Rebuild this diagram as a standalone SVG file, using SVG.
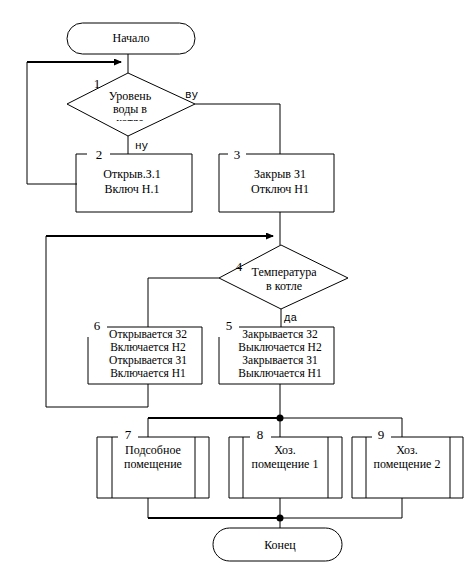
<svg xmlns="http://www.w3.org/2000/svg" width="474" height="570" viewBox="0 0 474 570">
<style>
  .s{fill:none;stroke:#000;stroke-width:1}
  .w{fill:#fff;stroke:#000;stroke-width:1}
  .thick{fill:none;stroke:#000;stroke-width:2.2}
  .t{font-family:"Liberation Serif","DejaVu Serif","Times New Roman",serif;font-size:12px;fill:#000;text-anchor:middle}
  .t5{font-family:"Liberation Serif","DejaVu Serif","Times New Roman",serif;font-size:11.5px;fill:#000;text-anchor:middle}
  .n{font-family:"Liberation Serif","DejaVu Serif","Times New Roman",serif;font-size:13px;fill:#000;text-anchor:middle}
  .l{font-family:"Liberation Mono","DejaVu Sans Mono",monospace;font-size:11px;fill:#000;text-anchor:start}
</style>
<defs>
  <marker id="ar" markerWidth="8" markerHeight="8" refX="7" refY="3.5" orient="auto" markerUnits="userSpaceOnUse">
    <path d="M0,0 L8,3.5 L0,7 Z" fill="#000"/>
  </marker>
  <clipPath id="clip1"><rect x="60" y="60" width="150" height="61"/></clipPath>
</defs>

<g id="connectors">
  <line class="s" x1="128" y1="54" x2="128" y2="73"/>
  <polyline class="s" points="77,184 27,184 27,62"/>
  <line class="thick" x1="27" y1="62" x2="121" y2="62" marker-end="url(#ar)"/>
  <line class="s" x1="128" y1="136" x2="128" y2="154"/>
  <polyline class="s" points="195,104 280,104 280,154"/>
  <line class="s" x1="280" y1="212" x2="280" y2="245"/>
  <line class="thick" x1="46" y1="236" x2="273" y2="236" marker-end="url(#ar)"/>
  <polyline class="s" points="148,384 148,407 46,407 46,236"/>
  <polyline class="s" points="219,278 148,278 148,327"/>
  <line class="s" x1="281" y1="309" x2="281" y2="327"/>
  <line class="s" x1="280" y1="384" x2="280" y2="418"/>
  <line class="thick" x1="148" y1="418" x2="280" y2="418"/>
  <polyline class="s" points="280,418 402,418 402,437"/>
  <line class="s" x1="148" y1="418" x2="148" y2="437"/>
  <line class="s" x1="280" y1="418" x2="280" y2="437"/>
  <circle cx="280" cy="418" r="3.5" fill="#000"/>
  <line class="s" x1="148" y1="498" x2="148" y2="518"/>
  <line class="s" x1="280" y1="498" x2="280" y2="528"/>
  <line class="s" x1="402" y1="498" x2="402" y2="518"/>
  <line class="thick" x1="148" y1="518" x2="280" y2="518"/>
  <line class="s" x1="280" y1="518" x2="402" y2="518"/>
  <circle cx="280" cy="518" r="3.5" fill="#000"/>
  <text class="l" x="185" y="98">ву</text>
  <text class="l" x="135" y="149">ну</text>
  <text class="l" x="284" y="321">да</text>
</g>

<g id="start">
  <rect class="w" x="67" y="23" width="128" height="31" rx="15.5" ry="15.5"/>
  <text class="t" x="131" y="42">Начало</text>
</g>

<g id="node1">
  <polygon class="w" points="128,73 195,104 128,136 67,104"/>
  <text class="n" x="97" y="88">1</text>
  <text class="t" x="130" y="100">Уровень</text>
  <text class="t" x="130" y="113">воды в</text>
  <text class="t" x="130" y="126" clip-path="url(#clip1)">котле</text>
</g>

<g id="node2">
  <polyline class="s" points="87,154 76,154 76,212 192,212 192,154 110,154"/>
  <text class="n" x="99" y="159">2</text>
  <text class="t" x="132" y="178">Открыв.З.1</text>
  <text class="t" x="132" y="193">Включ Н.1</text>
</g>

<g id="node3">
  <polyline class="s" points="228,154 219,154 219,212 334,212 334,154 246,154"/>
  <text class="n" x="237" y="159">3</text>
  <text class="t" x="280" y="178">Закрыв З1</text>
  <text class="t" x="280" y="193">Отключ Н1</text>
</g>

<g id="node4">
  <polygon class="w" points="281,245 348,278 281,309 219,278"/>
  <text class="n" x="239" y="271">4</text>
  <text class="t" x="284" y="276">Температура</text>
  <text class="t" x="284" y="290">в котле</text>
</g>

<g id="node5">
  <polyline class="s" points="239,327 334,327 334,384 219,384 219,337"/>
  <text class="n" x="229" y="330">5</text>
  <text class="t5" x="280" y="338">Закрывается З2</text>
  <text class="t5" x="280" y="351">Выключается Н2</text>
  <text class="t5" x="280" y="364">Закрывается З1</text>
  <text class="t5" x="280" y="377">Выключается Н1</text>
</g>

<g id="node6">
  <polyline class="s" points="107,327 202,327 202,384 88,384 88,337"/>
  <text class="n" x="97" y="330">6</text>
  <text class="t5" x="148" y="338">Открывается З2</text>
  <text class="t5" x="148" y="351">Включается Н2</text>
  <text class="t5" x="148" y="364">Открывается З1</text>
  <text class="t5" x="148" y="377">Включается Н1</text>
</g>

<g id="node7">
  <polyline class="s" points="118,437 97,437 97,498 209,498 209,437 138,437"/>
  <line class="s" x1="112" y1="437" x2="112" y2="498"/>
  <line class="s" x1="195" y1="437" x2="195" y2="498"/>
  <text class="n" x="128" y="439">7</text>
  <text class="t" x="153" y="454">Подсобное</text>
  <text class="t" x="153" y="468">помещение</text>
</g>

<g id="node8">
  <polyline class="s" points="250,437 229,437 229,498 342,498 342,437 271,437"/>
  <line class="s" x1="243" y1="437" x2="243" y2="498"/>
  <line class="s" x1="328" y1="437" x2="328" y2="498"/>
  <text class="n" x="260" y="439">8</text>
  <text class="t" x="285" y="454">Хоз.</text>
  <text class="t" x="285" y="468">помещение 1</text>
</g>

<g id="node9">
  <polyline class="s" points="372,437 352,437 352,498 463,498 463,437 391,437"/>
  <line class="s" x1="366" y1="437" x2="366" y2="498"/>
  <line class="s" x1="450" y1="437" x2="450" y2="498"/>
  <text class="n" x="381" y="439">9</text>
  <text class="t" x="407" y="454">Хоз.</text>
  <text class="t" x="407" y="468">помещение 2</text>
</g>

<g id="end">
  <rect class="w" x="213" y="528" width="129" height="33" rx="16.5" ry="16.5"/>
  <text class="t" x="280" y="549">Конец</text>
</g>
</svg>
